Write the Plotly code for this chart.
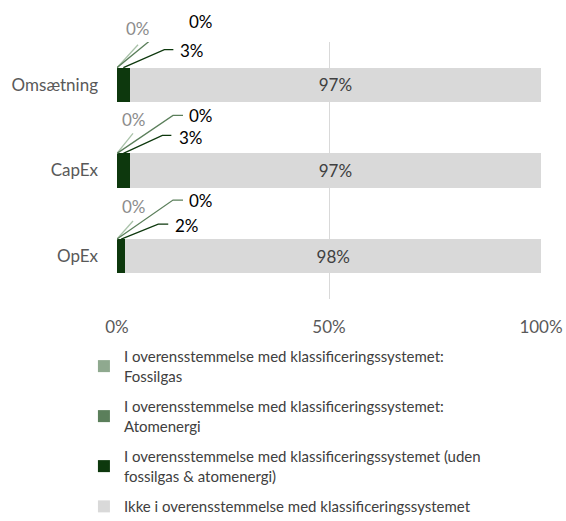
import plotly.graph_objects as go

categories = ["Omsætning", "CapEx", "OpEx"]
fossilgas = [0, 0, 0]
atomenergi = [0, 0, 0]
aligned = [3, 3, 2]
not_aligned = [97, 97, 98]
x_ticks = [0, 50, 100]
x_tick_labels = ["0%", "50%", "100%"]

series_names = [
    "I overensstemmelse med klassificeringssystemet:<br>Fossilgas",
    "I overensstemmelse med klassificeringssystemet:<br>Atomenergi",
    "I overensstemmelse med klassificeringssystemet (uden<br>fossilgas & atomenergi)",
    "Ikke i overensstemmelse med klassificeringssystemet",
]
colors = ["#8fa98f", "#5b7f5b", "#0d380d", "#d9d9d9"]
line_colors = ["#a9c2a9", "#5b7f5b", "#0d380d"]
label_colors = ["#8c8c8c", "#000000", "#000000"]

ypos = [2, 1, 0]  # numeric positions for categories
bar_w = 0.4
FONT = "Lato"

fig = go.Figure()
series = [fossilgas, atomenergi, aligned, not_aligned]
for i, (name, vals) in enumerate(zip(series_names, series)):
    fig.add_trace(go.Bar(
        y=ypos, x=vals, name=name, orientation="h", width=bar_w,
        legendgroup=f"g{i}",
        marker=dict(color=colors[i], line=dict(width=0)),
        text=[f"{v}%" for v in vals] if i == 3 else None,
        textposition="inside" if i == 3 else "none",
        insidetextanchor="middle",
        textfont=dict(color="#404040", size=17, family=FONT),
        hoverinfo="x+name",
    ))

# leader-line offsets (pixels) for the small segments: per category, per series
# (elbow dx, elbow dy, end dx, label xshift, label yshift, anchor)
leaders = [
    [(21, 23, 21, 21, 39, "center"), (56, 46, 66, 70, 46, "left"), (41, 18, 50, 55, 17, "left")],
    [(16, 20, 16, 17, 34, "center"), (56, 38, 66, 70, 38, "left"), (39, 18, 48, 54, 16, "left")],
    [(16, 18, 16, 17, 33, "center"), (56, 39, 66, 70, 39, "left"), (37, 15, 47, 52, 14, "left")],
]

shapes = []
annotations = []
for ci, y in enumerate(ypos):
    cum = 0
    for si in range(3):
        v = series[si][ci]
        center = cum + v / 2
        cum += v
        edx, edy, ex, lx, ly, anc = leaders[ci][si]
        path = f"M0,0 L{edx},{edy}" + (f" L{ex},{edy}" if ex != edx else "")
        shapes.append(dict(
            type="path", xref="x", yref="y", xsizemode="pixel", ysizemode="pixel",
            xanchor=center, yanchor=y + bar_w / 2, path=path,
            line=dict(color=line_colors[si], width=1.3),
        ))
        annotations.append(dict(
            x=center, y=y + bar_w / 2, xref="x", yref="y", text=f"{v}%",
            showarrow=False, xshift=lx, yshift=ly, xanchor=anc, yanchor="middle",
            font=dict(size=17, color=label_colors[si], family=FONT),
        ))

fig.update_layout(
    width=566, height=521,
    margin=dict(l=117, r=25, t=42, b=222, autoexpand=False),
    barmode="stack",
    plot_bgcolor="white", paper_bgcolor="white",
    font=dict(family=FONT, color="#595959", size=17),
    showlegend=True,
    legend=dict(
        x=-0.078, y=-0.16, xanchor="left", yanchor="top",
        font=dict(size=15, color="#404040", family=FONT),
        traceorder="grouped", tracegroupgap=8, itemclick=False,
    ),
    shapes=shapes,
    annotations=annotations,
)
fig.update_xaxes(
    range=[0, 100], tickvals=x_ticks, ticktext=x_tick_labels,
    showgrid=True, gridcolor="#d9d9d9", gridwidth=1, zeroline=False,
    showline=False, ticks="", ticklabelstandoff=16, automargin=False,
    tickfont=dict(size=17, color="#595959"),
)
fig.update_yaxes(
    range=[-0.5, 2.5], tickvals=ypos, ticktext=categories,
    showgrid=False, zeroline=False, showline=False, ticks="",
    ticklabelstandoff=18, automargin=False,
    tickfont=dict(size=17, color="#595959"),
)

fig.write_html("out.html", config={"displayModeBar": False},
               post_script="document.body.style.margin='0';")
